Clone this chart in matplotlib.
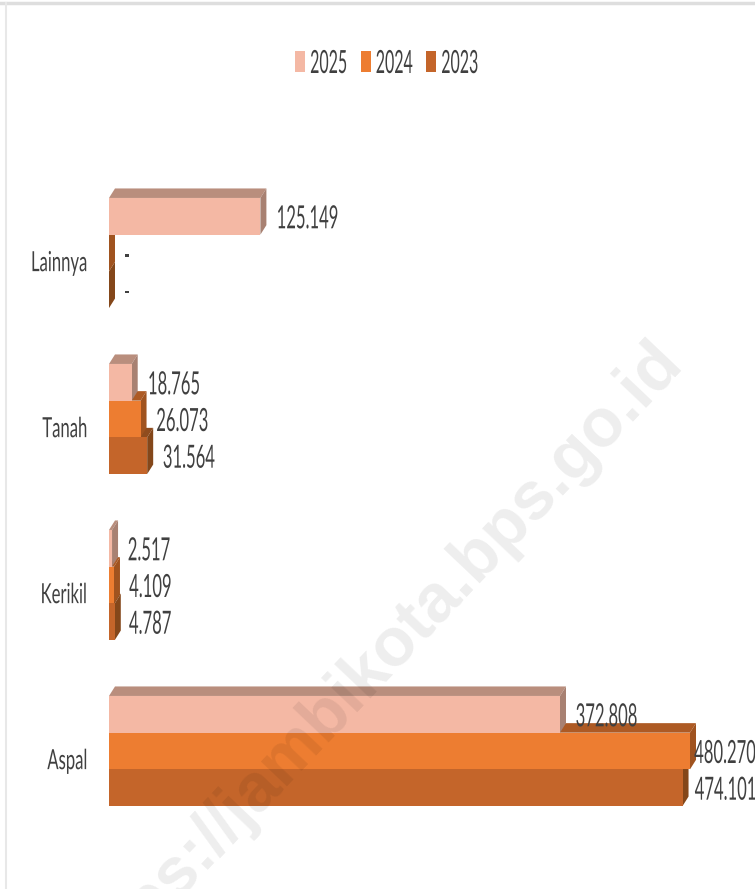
import matplotlib
matplotlib.use("Agg")
import matplotlib.pyplot as plt
from matplotlib.patches import Polygon, Patch
from matplotlib.patheffects import AbstractPathEffect
from matplotlib.transforms import Affine2D, ScaledTranslation

categories = ['Aspal', 'Kerikil', 'Tanah', 'Lainnya']
years = ['2025', '2024', '2023']
values_2025 = [372808, 2517, 18765, 125149]
values_2024 = [480270, 4109, 26073, 0]
values_2023 = [474101, 4787, 31564, 0]

W, H = 755, 889
PX_PER_UNIT = 581 / 480270
ROW_PX = 166
BAR_PX = 36.7
DEPTH_X = 6
DEPTH_Y = 9.5

colors = {
    '2025': ('#F4B8A4', '#B98E7D', '#A88172'),
    '2024': ('#ED7D31', '#AD5A24', '#A0531F'),
    '2023': ('#C4652A', '#8F4C1E', '#84471A'),
}


# the reference text is squeezed sideways, keep it real text and narrow it on draw
class Squeeze(AbstractPathEffect):
    def __init__(self, sx, anchor='left'):
        super().__init__()
        self.sx = sx
        self.anchor = anchor

    def draw_path(self, renderer, gc, tpath, affine, rgbFace=None):
        box = tpath.get_extents(affine)
        x0 = box.x1 if self.anchor == 'right' else box.x0
        new = affine + Affine2D().translate(-x0, 0).scale(self.sx, 1).translate(x0, 0)
        renderer.draw_path(gc, tpath, new, rgbFace)


def dotted(v):
    return f"{v:,}".replace(',', '.') if v else '-'


plt.rcParams['font.family'] = ['Lato', 'DejaVu Sans']
TEXT = '#404040'
SQ = 0.52

fig = plt.figure(figsize=(W / 100, H / 100), dpi=100)
left, right, top, bottom = 109, W, 140, 860
ax = fig.add_axes([left / W, 1 - bottom / H, (right - left) / W, (bottom - top) / H])
ax.set_xlim(0, (right - left) / PX_PER_UNIT)
ax.set_ylim(-(bottom - 751) / ROW_PX, (751 - top) / ROW_PX)
for s in ax.spines.values():
    s.set_visible(False)
ax.patch.set_alpha(0)
ax.xaxis.set_visible(False)
ax.set_yticks(range(len(categories)))
ax.set_yticklabels(categories, fontsize=20, color=TEXT)
ax.tick_params(axis='y', length=0, pad=15)
# category names sit a little below the middle of their group
down = ScaledTranslation(0, -5.5 / 72, fig.dpi_scale_trans)
for lab in ax.get_yticklabels():
    lab.set_path_effects([Squeeze(0.6, 'right')])
    lab.set_transform(lab.get_transform() + down)

dx = DEPTH_X / PX_PER_UNIT
dy = DEPTH_Y / ROW_PX
bar_h = BAR_PX / ROW_PX
series = {'2025': values_2025, '2024': values_2024, '2023': values_2023}
slots = {'2025': 1, '2024': 0, '2023': -1}
# label offsets that differ from the usual gap, the long bars run into the edge
gaps = {480270: 4, 474101: 12, 4787: 14, 0: 14}

for year in ['2023', '2024', '2025']:
    front, roof, side = colors[year]
    for i, v in enumerate(series[year]):
        y0 = i + slots[year] * bar_h - bar_h / 2
        y1 = y0 + bar_h
        ax.add_patch(Polygon([(0, y1), (v, y1), (v + dx, y1 + dy), (dx, y1 + dy)],
                             facecolor=roof, edgecolor='none', clip_on=False))
        ax.add_patch(Polygon([(v, y0), (v + dx, y0 + dy), (v + dx, y1 + dy), (v, y1)],
                             facecolor=side, edgecolor='none', clip_on=False))
        ax.fill_between([0, v], y0, y1, color=front, linewidth=0)
        t = ax.annotate(dotted(v), (v, (y0 + y1) / 2),
                        xytext=(gaps.get(v, 15) * 0.72, -3 * 0.72),
                        textcoords='offset points', va='center', ha='left',
                        fontsize=23, color=TEXT, annotation_clip=False)
        t.set_path_effects([Squeeze(SQ)])

handles = [Patch(facecolor=colors[y][0], edgecolor='none', label=y) for y in years]
leg = fig.legend(handles=handles, loc='center left', bbox_to_anchor=(295 / W, 1 - 64 / H),
                 ncol=3, frameon=False, fontsize=23, labelcolor=TEXT,
                 handlelength=0.31, handleheight=0.62, handletextpad=0.14,
                 columnspacing=-0.72, borderpad=0, borderaxespad=0)
for t in leg.get_texts():
    t.set_path_effects([Squeeze(0.5)])

fig.text(373 / W, 1 - 665 / H, 'https://jambikota.bps.go.id', fontsize=49, fontweight='bold',
         family=['Liberation Sans', 'DejaVu Sans'], color='black', alpha=0.07,
         rotation=46.5, rotation_mode='anchor', ha='center', va='center', zorder=5)

# grey edge of the source screenshot
fig.add_artist(plt.Line2D([0, 1], [1 - 3 / H, 1 - 3 / H], color='#DEDEDE', lw=2.5))
fig.add_artist(plt.Line2D([5.5 / W, 5.5 / W], [0, 1 - 3 / H], color='#E8E8E8', lw=1.5))

fig.savefig('out.png', dpi=100)
